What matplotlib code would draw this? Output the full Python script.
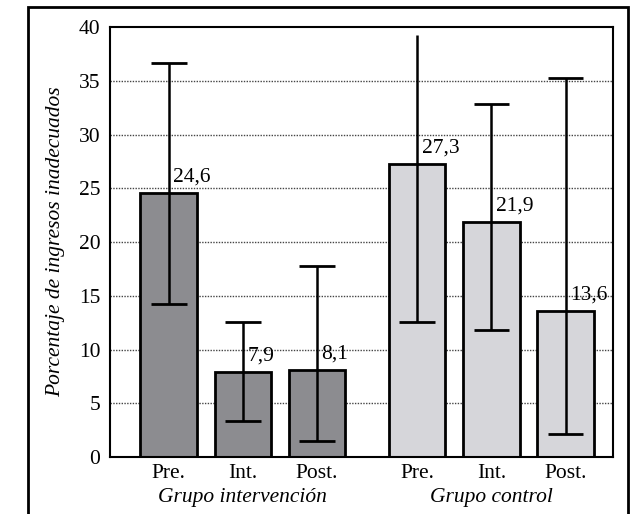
import numpy as np
import matplotlib
matplotlib.use('Agg')
import matplotlib.pyplot as plt
from matplotlib.patches import Rectangle

# datos
etiquetas = ['Pre.', 'Int.', 'Post.', 'Pre.', 'Int.', 'Post.']
posiciones = [0, 1, 2, 3.35, 4.35, 5.35]
porcentajes = [24.6, 7.9, 8.1, 27.3, 21.9, 13.6]
textos = ['24,6', '7,9', '8,1', '27,3', '21,9', '13,6']
ic_inf = [14.2, 3.3, 1.5, 12.6, 11.8, 2.1]
ic_sup = [36.7, 12.6, 17.8, 39.3, 32.9, 35.3]
tapa_sup = [True, True, True, False, True, True]
grupos = ['Grupo intervención', 'Grupo control']
colores = ['#8c8c90', '#8c8c90', '#8c8c90', '#d6d6da', '#d6d6da', '#d6d6da']

plt.rcParams['font.family'] = ['Liberation Serif', 'DejaVu Serif']

fig = plt.figure(figsize=(6.4, 5.14), dpi=100)
ax = fig.add_axes([0.172, 0.111, 0.786, 0.836])

# marco exterior
fig.patches.append(Rectangle((28/640, -0.05), 600/640, 1.036, transform=fig.transFigure,
                             fill=False, lw=2, edgecolor='black'))

for y in range(5, 40, 5):
    ax.axhline(y, color='#444444', ls=(0, (1, 1)), lw=1, zorder=0)

ax.bar(posiciones, porcentajes, width=0.76, color=colores, edgecolor='black', lw=2, zorder=2)

# barras de error
ax.vlines(posiciones, ic_inf, ic_sup, color='black', lw=1.8, zorder=3)
for x, lo, hi, tapa in zip(posiciones, ic_inf, ic_sup, tapa_sup):
    ax.hlines(lo, x - 0.24, x + 0.24, color='black', lw=2, zorder=3)
    if tapa:
        ax.hlines(hi, x - 0.24, x + 0.24, color='black', lw=2, zorder=3)

for x, h, t in zip(posiciones, porcentajes, textos):
    ax.text(x + 0.06, h + 0.6, t, ha='left', va='bottom', fontsize=15.5, zorder=4)

ax.set_xlim(-0.79, 5.99)
ax.set_ylim(0, 40)
ax.set_yticks(range(0, 41, 5))
ax.set_xticks(posiciones)
ax.set_xticklabels(etiquetas)
ax.tick_params(axis='both', length=0, labelsize=15.5)
ax.tick_params(axis='y', pad=7)
ax.tick_params(axis='x', pad=5)
for s in ax.spines.values():
    s.set_linewidth(1.5)

ax.set_ylabel('Porcentaje de ingresos inadecuados', fontsize=15.5, style='italic', labelpad=10)

ax.text(1, -0.072, grupos[0], transform=ax.get_xaxis_transform(), ha='center', va='top',
        fontsize=15.5, style='italic')
ax.text(4.35, -0.072, grupos[1], transform=ax.get_xaxis_transform(), ha='center', va='top',
        fontsize=15.5, style='italic')

fig.savefig('out.png', dpi=100)
